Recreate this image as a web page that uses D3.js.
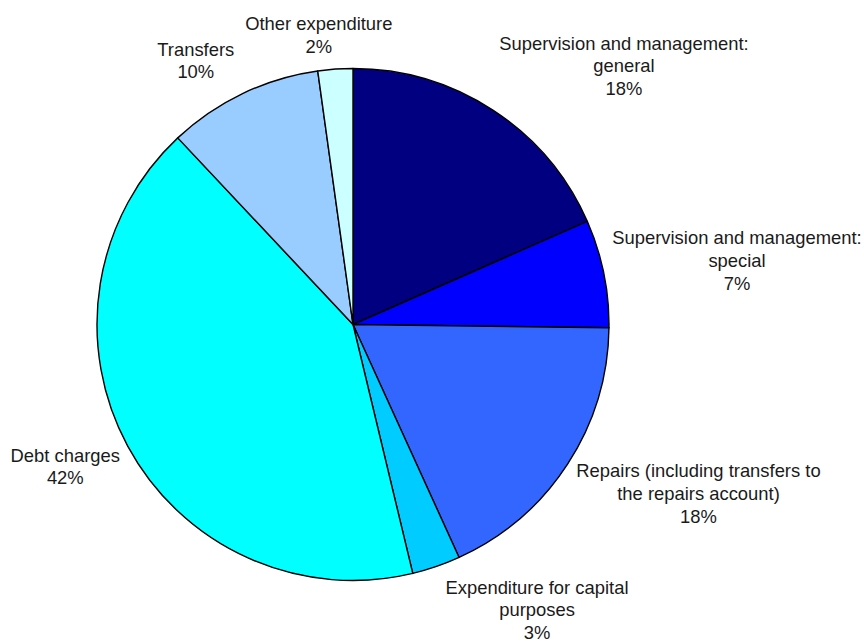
<!DOCTYPE html>
<html><head><meta charset="utf-8">
<script src="https://cdn.jsdelivr.net/npm/d3@7"></script>
<style>body{margin:0;background:#fff}svg{display:block}</style>
</head><body>
<script>
// Data (shares in percent)
const categories = [
  "Supervision and management: general",
  "Supervision and management: special",
  "Repairs (including transfers to the repairs account)",
  "Expenditure for capital purposes",
  "Debt charges",
  "Transfers",
  "Other expenditure"
];
const values = [18.4, 6.8, 18.0, 3.05, 41.75, 9.8, 2.2];
// Label text lines as wrapped in the reference
const labelLines = [
  ["Supervision and management:", "general"],
  ["Supervision and management:", "special"],
  ["Repairs (including transfers to", "the repairs account)"],
  ["Expenditure for capital", "purposes"],
  ["Debt charges"],
  ["Transfers"],
  ["Other expenditure"]
];

// Layout / style (kept separate from data)
const W = 864, H = 642;
const cx = 353, cy = 324.5, R = 256;
const colors = ["#000080", "#0000FF", "#3366FF", "#00CCFF", "#00FFFF", "#99CCFF", "#CCFFFF"];
const labelAnchor = [[624, 49.5], [737, 244.3], [698.5, 477.3], [537, 593.5], [65.3, 461.7], [195.8, 55.7], [318.8, 30]];
const lineH = 22.6;

const svg = d3.select("body").append("svg").attr("width", W).attr("height", H);
const g = svg.append("g").attr("transform", `translate(${cx},${cy})`);

const pie = d3.pie().sort(null).value(d => d)(values);
const arc = d3.arc().innerRadius(0).outerRadius(R);

g.selectAll("path").data(pie).join("path")
  .attr("d", arc)
  .attr("fill", (d, i) => colors[i])
  .attr("stroke", "#000")
  .attr("stroke-width", 1.4)
  .attr("stroke-linejoin", "round");

const total = d3.sum(values);
const labels = svg.append("g")
  .attr("font-family", "Arial, 'Liberation Sans', sans-serif")
  .attr("font-size", 18.4)
  .attr("fill", "#1a1a1a")
  .attr("text-anchor", "middle");

pie.forEach((d, i) => {
  const lines = labelLines[i].concat([Math.round(values[i] / total * 100) + "%"]);
  const t = labels.append("text").attr("x", labelAnchor[i][0]).attr("y", labelAnchor[i][1]);
  lines.forEach((ln, j) => {
    t.append("tspan").attr("x", labelAnchor[i][0]).attr("dy", j === 0 ? 0 : lineH).text(ln);
  });
});
</script>
</body></html>
